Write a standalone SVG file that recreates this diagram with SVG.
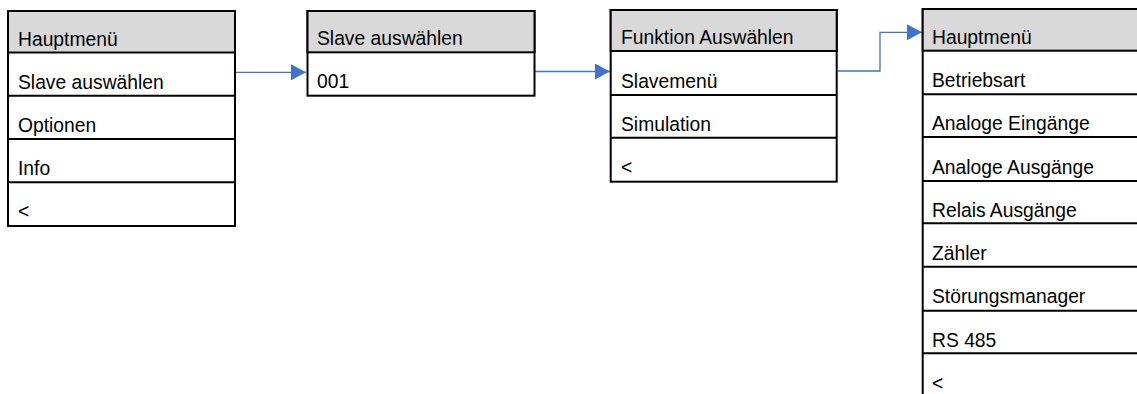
<svg xmlns="http://www.w3.org/2000/svg" width="1137" height="394" viewBox="0 0 1137 394">
<style>
.box{fill:#fff;stroke:#000;stroke-width:2}
.hdr{fill:#d9d9d9;stroke:#000;stroke-width:2}
.sep{stroke:#000;stroke-width:2}
.t{font-family:"Liberation Sans",Arial,sans-serif;font-size:19.3px;fill:#000}
.con{fill:none;stroke:#4472c4;stroke-width:1.3}
</style>
<defs>
<marker id="ah" markerUnits="userSpaceOnUse" markerWidth="16" markerHeight="16" refX="15" refY="8" orient="auto">
<path d="M0,0 L15,8 L0,16 Z" fill="#4472c4"/>
</marker>
</defs>
<rect width="1137" height="394" fill="#fff"/>

<g id="connectors">
<path class="con" d="M236,72.3 L306,72.3" marker-end="url(#ah)"/>
<path class="con" d="M535,71.5 L610,71.5" marker-end="url(#ah)"/>
<path class="con" d="M837.5,71 L880,71 L880,32.3 L922,32.3" marker-end="url(#ah)"/>
</g>

<g id="table1">
<rect class="box" x="8" y="11" width="227" height="215"/>
<rect class="hdr" x="8" y="11" width="227" height="41.5"/>
<line class="sep" x1="8" y1="95.8" x2="235" y2="95.8"/>
<line class="sep" x1="8" y1="139" x2="235" y2="139"/>
<line class="sep" x1="8" y1="182.3" x2="235" y2="182.3"/>
<text class="t" x="18" y="45.5">Hauptmenü</text>
<text class="t" x="18" y="88.5">Slave auswählen</text>
<text class="t" x="18" y="131.7">Optionen</text>
<text class="t" x="18" y="175">Info</text>
<text class="t" x="18" y="218.3">&lt;</text>
</g>

<g id="table2">
<rect class="box" x="307.5" y="11" width="227" height="84.7"/>
<rect class="hdr" x="307.5" y="11" width="227" height="41.3"/>
<text class="t" x="317" y="45.3">Slave auswählen</text>
<text class="t" x="317" y="88.3">001</text>
</g>

<g id="table3">
<rect class="box" x="610.7" y="10" width="226" height="171.7"/>
<rect class="hdr" x="610.7" y="10" width="226" height="41"/>
<line class="sep" x1="610.7" y1="95" x2="836.7" y2="95"/>
<line class="sep" x1="610.7" y1="137.7" x2="836.7" y2="137.7"/>
<text class="t" x="621" y="44.3">Funktion Auswählen</text>
<text class="t" x="621" y="87.7">Slavemenü</text>
<text class="t" x="621" y="130.5">Simulation</text>
<text class="t" x="621" y="174">&lt;</text>
</g>

<g id="table4">
<rect class="box" x="922.7" y="9" width="227" height="400"/>
<rect class="hdr" x="922.7" y="9" width="227" height="41.7"/>
<line class="sep" x1="922.7" y1="94.3" x2="1149.7" y2="94.3"/>
<line class="sep" x1="922.7" y1="137" x2="1149.7" y2="137"/>
<line class="sep" x1="922.7" y1="181" x2="1149.7" y2="181"/>
<line class="sep" x1="922.7" y1="223.3" x2="1149.7" y2="223.3"/>
<line class="sep" x1="922.7" y1="266.7" x2="1149.7" y2="266.7"/>
<line class="sep" x1="922.7" y1="310.7" x2="1149.7" y2="310.7"/>
<line class="sep" x1="922.7" y1="353.3" x2="1149.7" y2="353.3"/>
<text class="t" x="932" y="43.5">Hauptmenü</text>
<text class="t" x="932" y="87">Betriebsart</text>
<text class="t" x="932" y="130">Analoge Eingänge</text>
<text class="t" x="932" y="173.5">Analoge Ausgänge</text>
<text class="t" x="932" y="216.5">Relais Ausgänge</text>
<text class="t" x="932" y="259.5">Zähler</text>
<text class="t" x="932" y="303">Störungsmanager</text>
<text class="t" x="932" y="346.5">RS 485</text>
<text class="t" x="932" y="389.5">&lt;</text>
</g>
</svg>
